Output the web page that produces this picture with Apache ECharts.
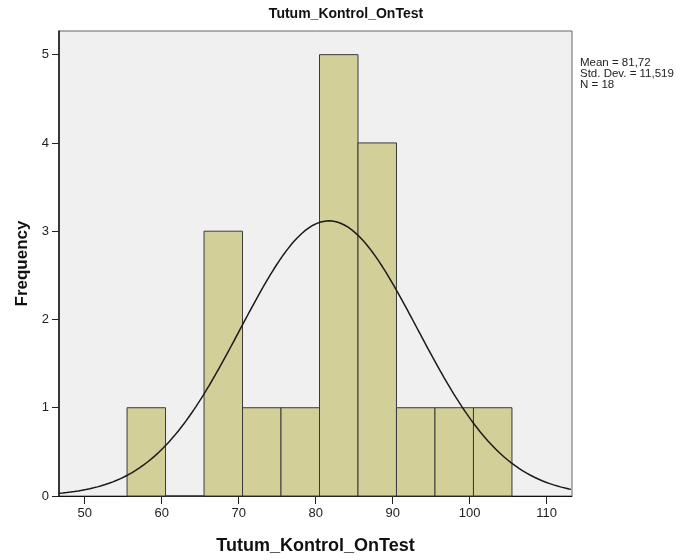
<!DOCTYPE html>
<html>
<head>
<meta charset="utf-8">
<script src="https://cdn.jsdelivr.net/npm/echarts@6/dist/echarts.min.js"></script>
<style>
  html, body { margin: 0; padding: 0; background: #ffffff; }
  #chart { width: 694px; height: 560px; }
</style>
</head>
<body>
<div id="chart"></div>
<script>
// Histogram bins (lower / upper edges) and their frequencies
const binStarts = [55.5, 60.5, 65.5, 70.5, 75.5, 80.5, 85.5, 90.5, 95.5, 100.5];
const binEnds   = [60.5, 65.5, 70.5, 75.5, 80.5, 85.5, 90.5, 95.5, 100.5, 105.5];
const counts    = [1, 0, 3, 1, 1, 5, 4, 1, 1, 1];

// Summary statistics shown beside the plot
const statMean = 81.72;
const statSD = 11.519;
const statN = 18;
const statLines = ['Mean = 81,72', 'Std. Dev. = 11,519', 'N = 18'];

// Axis ticks
const xTicks = [50, 60, 70, 80, 90, 100, 110];
const yTicks = [0, 1, 2, 3, 4, 5];

const X_MIN = 46.66, X_MAX = 113.3;
const Y_MIN = 0, Y_MAX = 5.268;
const BIN_WIDTH = 5;

// Fitted normal curve, scaled to frequency per bin
const curve = [];
const scale = statN * BIN_WIDTH / (statSD * Math.sqrt(2 * Math.PI));
for (let x = X_MIN; x <= X_MAX + 1e-9; x += 0.25) {
  const z = (x - statMean) / statSD;
  curve.push([x, scale * Math.exp(-0.5 * z * z)]);
}

const bars = binStarts.map((s, i) => [s, binEnds[i], counts[i]]);

const FONT = '"Liberation Sans", Arial, sans-serif';

const chart = echarts.init(document.getElementById('chart'), null, { renderer: 'canvas' });
chart.setOption({
  animation: false,
  backgroundColor: '#ffffff',
  title: {
    text: 'Tutum_Kontrol_OnTest',
    left: 341, top: 2, textAlign: 'center',
    textStyle: { fontFamily: FONT, fontSize: 14, fontWeight: 'bold', color: '#111' }
  },
  grid: {
    left: 59, top: 31, width: 513, height: 473,
    show: true, backgroundColor: '#f0f0f0', borderColor: '#666', borderWidth: 1,
    containLabel: false
  },
  xAxis: {
    type: 'value', min: X_MIN, max: X_MAX,
    name: 'Tutum_Kontrol_OnTest', nameLocation: 'middle', nameGap: 41,
    nameTextStyle: { fontFamily: FONT, fontSize: 18, fontWeight: 'bold', color: '#111' },
    axisLine: { show: true, lineStyle: { color: '#111', width: 1 } },
    axisTick: { show: true, customValues: xTicks, length: 8, lineStyle: { color: '#222' } },
    axisLabel: { customValues: xTicks, margin: 11, fontFamily: FONT, fontSize: 13, color: '#222' },
    splitLine: { show: false }
  },
  yAxis: {
    type: 'value', min: Y_MIN, max: Y_MAX,
    name: 'Frequency', nameLocation: 'middle', nameGap: 28, nameRotate: 90,
    nameTextStyle: { fontFamily: FONT, fontSize: 17, fontWeight: 'bold', color: '#111' },
    axisLine: { show: true, lineStyle: { color: '#111', width: 1.5 } },
    axisTick: { show: true, customValues: yTicks, length: 7, lineStyle: { color: '#222' } },
    axisLabel: { customValues: yTicks, margin: 10, fontFamily: FONT, fontSize: 13, color: '#222' },
    splitLine: { show: false }
  },
  graphic: statLines.map((t, i) => ({
    type: 'text', left: 580, top: 57 + i * 11,
    style: { text: t, fontFamily: FONT, fontSize: 11.5, fill: '#222' }
  })),
  series: [
    {
      type: 'custom',
      data: bars,
      encode: { x: [0, 1], y: 2 },
      renderItem: function (params, api) {
        const p0 = api.coord([api.value(0), api.value(2)]);
        const p1 = api.coord([api.value(1), 0]);
        return {
          type: 'rect',
          shape: { x: p0[0], y: p0[1], width: p1[0] - p0[0], height: p1[1] - p0[1] },
          style: { fill: '#d3cf98', stroke: '#3a3a3a', lineWidth: 1 }
        };
      },
      z: 2
    },
    {
      type: 'line',
      data: curve,
      showSymbol: false,
      smooth: false,
      lineStyle: { color: '#1a1a1a', width: 1.5 },
      z: 3
    }
  ]
});
</script>
</body>
</html>
